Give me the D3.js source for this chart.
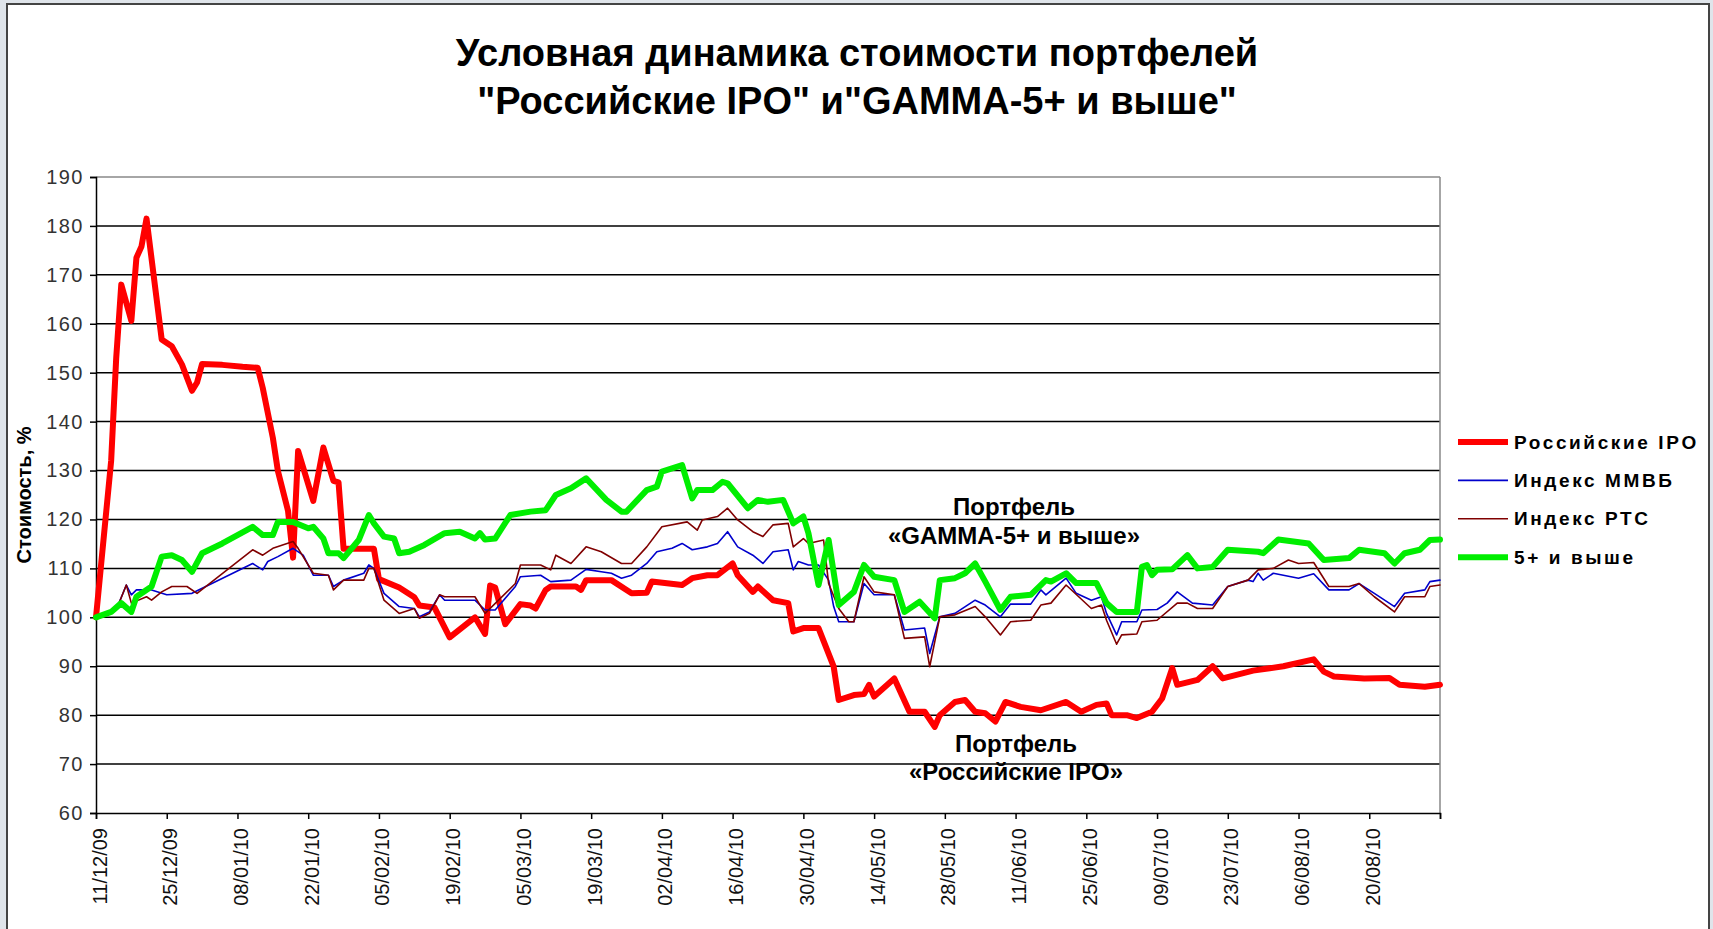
<!DOCTYPE html>
<html lang="ru">
<head>
<meta charset="UTF-8">
<title>Условная динамика стоимости портфелей</title>
<script src="https://d3js.org/d3.v7.min.js"></script>
<style>
  body { margin: 0; background: #dfe4ea; }
  svg { display: block; font-family: "Liberation Sans", Arial, sans-serif; }
  .ytick { font-size: 20px; fill: #333; letter-spacing: 1.5px; }
  .xtick { font-size: 20px; fill: #111; }
  .legendText { font-size: 19px; font-weight: bold; letter-spacing: 2.6px; }
  .note { font-size: 24px; font-weight: bold; }
</style>
</head>
<body>
<svg id="chart" width="1713" height="929"></svg>
<script>
  const titleLines = ["Условная динамика стоимости портфелей", "\"Российские IPO\" и\"GAMMA-5+ и выше\""];
  const yTitle = "Стоимость, %";
  const seriesNames = ["Российские IPO", "Индекс ММВБ", "Индекс РТС", "5+ и выше"];
  const yTicks = [60, 70, 80, 90, 100, 110, 120, 130, 140, 150, 160, 170, 180, 190];
  const tickLabels = ["11/12/09", "25/12/09", "08/01/10", "22/01/10", "05/02/10", "19/02/10", "05/03/10",
    "19/03/10", "02/04/10", "16/04/10", "30/04/10", "14/05/10", "28/05/10", "11/06/10", "25/06/10",
    "09/07/10", "23/07/10", "06/08/10", "20/08/10"];
  const axisEnd = "03/09/10";

  const ipoData = [
    ["11/12/09",100],["14/12/09",132],["15/12/09",153],["16/12/09",168],["18/12/09",160.6],["19/12/09",173.5],
    ["20/12/09",175.8],["21/12/09",181.5],["24/12/09",156.8],["26/12/09",155.4],["28/12/09",151.7],["30/12/09",146.3],
    ["31/12/09",148],["01/01/10",151.8],["05/01/10",151.6],["09/01/10",151.2],["12/01/10",151],["13/01/10",146.9],
    ["15/01/10",136.7],["16/01/10",129.9],["18/01/10",121.8],["19/01/10",112.2],["20/01/10",134],["23/01/10",123.8],
    ["25/01/10",134.7],["27/01/10",127.9],["28/01/10",127.6],["29/01/10",114],["01/02/10",114],["04/02/10",114],
    ["05/02/10",107.8],["09/02/10",106.1],["12/02/10",104.1],["13/02/10",102.4],["16/02/10",102],["19/02/10",95.9],
    ["24/02/10",100],["26/02/10",96.6],["27/02/10",106.5],["28/02/10",106.1],["02/03/10",98.6],["05/03/10",102.7],
    ["07/03/10",102.4],["08/03/10",101.8],["10/03/10",105.6],["11/03/10",106.3],["16/03/10",106.3],["17/03/10",105.6],
    ["18/03/10",107.6],["23/03/10",107.6],["27/03/10",104.9],["30/03/10",105],["31/03/10",107.3],["06/04/10",106.6],
    ["08/04/10",108],["11/04/10",108.6],["13/04/10",108.6],["16/04/10",111],["17/04/10",108.6],["20/04/10",105.2],
    ["21/04/10",106.3],["24/04/10",103.5],["27/04/10",102.9],["28/04/10",97.1],["30/04/10",97.8],["03/05/10",97.8],
    ["06/05/10",89.9],["07/05/10",83.1],["10/05/10",84.1],["12/05/10",84.3],["13/05/10",86.2],["14/05/10",83.8],
    ["18/05/10",87.5],["21/05/10",80.7],["24/05/10",80.7],["26/05/10",77.6],["27/05/10",80],["30/05/10",82.7],
    ["01/06/10",83.1],["03/06/10",80.7],["05/06/10",80.4],["07/06/10",78.7],["09/06/10",82.7],["12/06/10",81.7],
    ["16/06/10",81],["21/06/10",82.7],["24/06/10",80.7],["27/06/10",82.1],["29/06/10",82.4],["30/06/10",80],
    ["03/07/10",80],["05/07/10",79.4],["08/07/10",80.7],["10/07/10",83.4],["12/07/10",89.6],["13/07/10",86.2],
    ["17/07/10",87.2],["20/07/10",90],["22/07/10",87.5],["28/07/10",89.1],["03/08/10",90],["09/08/10",91.4],
    ["11/08/10",88.9],["13/08/10",87.9],["19/08/10",87.5],["24/08/10",87.6],["26/08/10",86.2],["31/08/10",85.8],
    ["03/09/10",86.2]
  ];

  const micexData = [
    ["11/12/09",100],["15/12/09",101.5],["17/12/09",106.6],["18/12/09",104.6],["19/12/09",105.6],["22/12/09",105.6],
    ["25/12/09",104.6],["30/12/09",104.9],["11/01/10",111],["13/01/10",109.7],["14/01/10",111.4],["16/01/10",112.4],
    ["19/01/10",114.1],["21/01/10",112.7],["23/01/10",108.6],["26/01/10",108.6],["27/01/10",106.3],["29/01/10",107.6],
    ["02/02/10",109],["03/02/10",110.7],["04/02/10",110],["06/02/10",104.9],["09/02/10",102.2],["12/02/10",101.8],
    ["13/02/10",100.1],["15/02/10",101.1],["17/02/10",104.6],["18/02/10",103.5],["24/02/10",103.5],["26/02/10",101.5],
    ["28/02/10",101.5],["04/03/10",106.3],["05/03/10",108.3],["09/03/10",108.6],["11/03/10",107.3],["15/03/10",107.6],
    ["18/03/10",109.8],["21/03/10",109.3],["23/03/10",109],["25/03/10",108],["27/03/10",108.6],["30/03/10",111],
    ["01/04/10",113.4],["04/04/10",114.1],["06/04/10",115.1],["08/04/10",113.8],["11/04/10",114.4],["13/04/10",115.1],
    ["15/04/10",117.5],["17/04/10",114.4],["20/04/10",112.7],["22/04/10",111],["24/04/10",113.4],["27/04/10",113.8],
    ["28/04/10",109.7],["29/04/10",111.4],["01/05/10",110.7],["03/05/10",110.7],["05/05/10",107.6],["06/05/10",102.2],
    ["07/05/10",99.1],["10/05/10",99.1],["12/05/10",106.9],["14/05/10",104.6],["18/05/10",104.6],["20/05/10",97.4],
    ["24/05/10",97.8],["25/05/10",92.6],["27/05/10",100.1],["30/05/10",100.8],["03/06/10",103.5],["05/06/10",102.5],
    ["08/06/10",100.1],["10/06/10",102.7],["14/06/10",102.7],["16/06/10",105.6],["17/06/10",104.6],["21/06/10",108],
    ["23/06/10",104.9],["26/06/10",103.5],["28/06/10",104.2],["29/06/10",100.8],["01/07/10",96.4],["02/07/10",99.1],
    ["05/07/10",99.1],["06/07/10",101.5],["09/07/10",101.6],["11/07/10",102.9],["13/07/10",105.2],["16/07/10",102.9],
    ["20/07/10",102.5],["23/07/10",106.3],["27/07/10",107.6],["28/07/10",107.3],["29/07/10",109],["30/07/10",107.6],
    ["01/08/10",109],["03/08/10",108.6],["06/08/10",108],["09/08/10",108.9],["12/08/10",105.6],["16/08/10",105.6],
    ["18/08/10",106.9],["21/08/10",104.9],["25/08/10",102.2],["27/08/10",104.9],["31/08/10",105.6],["01/09/10",107.3],
    ["03/09/10",107.6]
  ];

  const rtsData = [
    ["11/12/09",100],["15/12/09",101.5],["17/12/09",106.6],["18/12/09",102.9],["21/12/09",104.2],["22/12/09",103.5],
    ["24/12/09",105.2],["26/12/09",106.3],["29/12/09",106.3],["31/12/09",104.9],["11/01/10",113.8],["13/01/10",112.7],
    ["15/01/10",114.1],["19/01/10",115.5],["20/01/10",114.1],["23/01/10",109],["26/01/10",108.6],["27/01/10",105.6],
    ["29/01/10",107.6],["02/02/10",107.6],["03/02/10",110],["04/02/10",110],["06/02/10",103.5],["09/02/10",100.8],
    ["12/02/10",101.8],["13/02/10",99.8],["15/02/10",100.8],["17/02/10",104.6],["18/02/10",104.2],["24/02/10",104.2],
    ["26/02/10",100.8],["04/03/10",106.9],["05/03/10",110.7],["09/03/10",110.7],["11/03/10",109.7],["12/03/10",112.7],
    ["15/03/10",111],["18/03/10",114.4],["21/03/10",113.4],["25/03/10",111],["27/03/10",111],["30/03/10",114.4],
    ["02/04/10",118.5],["07/04/10",119.5],["09/04/10",117.8],["10/04/10",119.9],["13/04/10",120.6],["15/04/10",122.3],
    ["17/04/10",119.9],["20/04/10",117.5],["22/04/10",116.5],["24/04/10",118.9],["27/04/10",119.2],["28/04/10",114.4],
    ["30/04/10",116.1],["01/05/10",115.1],["04/05/10",115.8],["05/05/10",106.9],["07/05/10",101.8],["09/05/10",99.1],
    ["10/05/10",99.1],["12/05/10",108.3],["14/05/10",105.2],["18/05/10",104.6],["20/05/10",95.7],["24/05/10",96],
    ["25/05/10",89.9],["27/05/10",100.1],["30/05/10",100.5],["03/06/10",102.2],["05/06/10",100.1],["08/06/10",96.4],
    ["10/06/10",99.1],["14/06/10",99.4],["16/06/10",102.5],["18/06/10",102.9],["21/06/10",106.6],["26/06/10",101.8],
    ["28/06/10",102.5],["29/06/10",99.4],["01/07/10",94.5],["02/07/10",96.4],["05/07/10",96.6],["06/07/10",99.1],
    ["09/07/10",99.4],["13/07/10",102.9],["15/07/10",102.9],["17/07/10",101.8],["20/07/10",101.8],["23/07/10",106.3],
    ["27/07/10",107.6],["29/07/10",109.7],["01/08/10",110],["04/08/10",111.7],["06/08/10",111],["09/08/10",111.2],
    ["12/08/10",106.3],["16/08/10",106.3],["18/08/10",106.9],["21/08/10",104.2],["25/08/10",101.1],["27/08/10",104.2],
    ["31/08/10",104.2],["01/09/10",106.3],["03/09/10",106.6]
  ];

  const gammaData = [
    ["11/12/09",100],["14/12/09",101.1],["16/12/09",102.9],["18/12/09",101.1],["19/12/09",104.2],["22/12/09",106.3],
    ["24/12/09",112.4],["26/12/09",112.7],["28/12/09",111.7],["30/12/09",109.3],["01/01/10",113.1],["05/01/10",115.1],
    ["11/01/10",118.5],["13/01/10",116.8],["15/01/10",116.8],["16/01/10",119.5],["19/01/10",119.5],["22/01/10",118.2],
    ["23/01/10",118.5],["25/01/10",116.1],["26/01/10",113.1],["28/01/10",113.1],["29/01/10",112.1],["01/02/10",115.8],
    ["03/02/10",120.9],["04/02/10",119.2],["06/02/10",116.5],["08/02/10",116.1],["09/02/10",113.1],["11/02/10",113.4],
    ["14/02/10",114.8],["18/02/10",117.2],["21/02/10",117.5],["24/02/10",116.1],["25/02/10",117.2],["26/02/10",115.9],
    ["28/02/10",116.1],["03/03/10",120.9],["07/03/10",121.6],["10/03/10",121.9],["12/03/10",125],["15/03/10",126.4],
    ["18/03/10",128.4],["22/03/10",124],["25/03/10",121.6],["26/03/10",121.6],["30/03/10",126],["01/04/10",126.7],
    ["02/04/10",129.8],["06/04/10",131.1],["08/04/10",124.3],["09/04/10",126],["12/04/10",126],["14/04/10",127.7],
    ["15/04/10",127.4],["19/04/10",122.3],["21/04/10",124],["23/04/10",123.6],["26/04/10",124],["28/04/10",119.2],
    ["30/04/10",120.6],["01/05/10",117.2],["03/05/10",106.6],["05/05/10",115.8],["07/05/10",102.5],["10/05/10",105.2],
    ["12/05/10",110.7],["14/05/10",108.3],["18/05/10",107.6],["20/05/10",101.1],["23/05/10",103.2],["26/05/10",99.8],
    ["27/05/10",107.6],["30/05/10",108],["01/06/10",109],["03/06/10",111],["05/06/10",107.3],["08/06/10",101.5],
    ["10/06/10",104.2],["14/06/10",104.6],["17/06/10",107.6],["18/06/10",107.3],["21/06/10",109],["23/06/10",107],
    ["27/06/10",107],["29/06/10",102.9],["01/07/10",101.1],["05/07/10",101.1],["06/07/10",110.3],["07/07/10",110.7],
    ["08/07/10",108.6],["09/07/10",109.7],["12/07/10",109.8],["15/07/10",112.7],["17/07/10",110],["20/07/10",110.3],
    ["23/07/10",113.8],["29/07/10",113.4],["30/07/10",113.1],["02/08/10",115.9],["08/08/10",115.1],["11/08/10",111.7],
    ["16/08/10",112.1],["18/08/10",113.8],["23/08/10",113.1],["25/08/10",111],["27/08/10",113.1],["30/08/10",113.8],
    ["01/09/10",115.8],["03/09/10",115.9]
  ];

  const parseDate = d3.timeParse("%d/%m/%y");
  const svg = d3.select("#chart");

  // slide frame
  svg.append("rect").attr("x", 7).attr("y", 4).attr("width", 1702).attr("height", 940)
    .attr("fill", "#fff").attr("stroke", "#444").attr("stroke-width", 2);

  const plot = { left: 96, right: 1440, top: 177, bottom: 813 };

  const x = d3.scaleTime()
    .domain([parseDate(tickLabels[0]), parseDate(axisEnd)])
    .range([plot.left, plot.right]);
  const y = d3.scaleLinear().domain([60, 190]).range([plot.bottom, plot.top]);

  // title
  svg.append("g").selectAll("text").data(titleLines).enter().append("text")
    .attr("x", 857).attr("y", (d, i) => 53 + i * 48).attr("dy", "0.35em")
    .attr("text-anchor", "middle").style("font-size", "38px").style("font-weight", "bold")
    .text(d => d);

  // gridlines
  svg.append("g").selectAll("line").data(yTicks.slice(1)).enter().append("line")
    .attr("x1", plot.left).attr("x2", plot.right)
    .attr("y1", d => y(d)).attr("y2", d => y(d))
    .attr("stroke", d => d === 190 ? "#888" : "#000").attr("stroke-width", 1.5);
  svg.append("line").attr("x1", plot.right).attr("x2", plot.right)
    .attr("y1", plot.top).attr("y2", plot.bottom).attr("stroke", "#888").attr("stroke-width", 1.5);

  // y axis
  const yAxis = svg.append("g").attr("transform", `translate(${plot.left},0)`)
    .call(d3.axisLeft(y).tickValues(yTicks).tickSize(6).tickPadding(6).tickFormat(d3.format("d")));
  yAxis.select(".domain").attr("stroke", "#000").attr("stroke-width", 1.5);
  yAxis.selectAll(".tick line").attr("stroke", "#000").attr("stroke-width", 1.5);
  yAxis.selectAll("text").attr("class", "ytick").attr("font-size", null).attr("font-family", null);

  svg.append("text").attr("transform", `translate(24,${(plot.top + plot.bottom) / 2}) rotate(-90)`)
    .attr("text-anchor", "middle").attr("dy", "0.35em")
    .style("font-size", "20px").style("font-weight", "bold").text(yTitle);

  // x axis
  const tickDates = tickLabels.map(parseDate).concat([parseDate(axisEnd)]);
  const xAxis = svg.append("g").attr("transform", `translate(0,${plot.bottom})`)
    .call(d3.axisBottom(x).tickValues(tickDates).tickSize(6)
      .tickFormat((d, i) => i < tickLabels.length ? tickLabels[i] : ""));
  xAxis.select(".domain").attr("stroke", "#000").attr("stroke-width", 1.5);
  xAxis.selectAll(".tick line").attr("stroke", "#000").attr("stroke-width", 1.5);
  xAxis.selectAll("text").attr("class", "xtick").attr("font-size", null).attr("font-family", null)
    .attr("y", null).attr("dy", "0.35em").attr("text-anchor", "end")
    .attr("transform", "translate(3,15) rotate(-90)");

  // series
  const series = [
    { name: seriesNames[0], data: ipoData, color: "#ff0000", width: 6 },
    { name: seriesNames[1], data: micexData, color: "#0000cc", width: 1.6 },
    { name: seriesNames[2], data: rtsData, color: "#800000", width: 1.6 },
    { name: seriesNames[3], data: gammaData, color: "#00ee00", width: 6 }
  ];

  const line = d3.line().x(d => x(parseDate(d[0]))).y(d => y(d[1]));

  svg.append("g").selectAll("path").data(series).enter().append("path")
    .attr("d", d => line(d.data))
    .attr("fill", "none")
    .attr("stroke", d => d.color)
    .attr("stroke-width", d => d.width)
    .attr("stroke-linejoin", "round")
    .attr("stroke-linecap", "round");

  // legend
  const legend = svg.append("g").selectAll("g").data(series).enter().append("g")
    .attr("transform", (d, i) => `translate(1458,${442 + i * 38.4})`);
  legend.append("line").attr("x1", 0).attr("x2", 50)
    .attr("stroke", d => d.color).attr("stroke-width", d => d.width);
  legend.append("text").attr("class", "legendText").attr("x", 56).attr("dy", "0.35em").text(d => d.name);

  // annotations
  const notes = [
    { x: 1014, y: 507, t: "Портфель" },
    { x: 1014, y: 536, t: "«GAMMA-5+ и выше»" },
    { x: 1016, y: 744, t: "Портфель" },
    { x: 1016, y: 772, t: "«Российские IPO»" }
  ];
  svg.append("g").selectAll("text").data(notes).enter().append("text")
    .attr("class", "note").attr("x", d => d.x).attr("y", d => d.y)
    .attr("dy", "0.35em").attr("text-anchor", "middle").text(d => d.t);
</script>
</body>
</html>
